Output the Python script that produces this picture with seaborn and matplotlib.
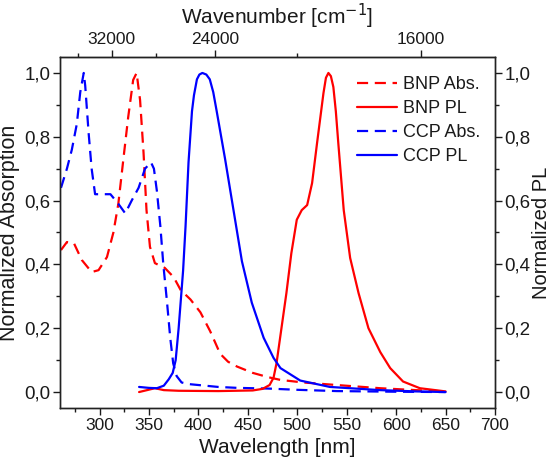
import numpy as np
import matplotlib
matplotlib.use("Agg")
import matplotlib.pyplot as plt
from matplotlib.ticker import FixedLocator, MultipleLocator, FuncFormatter
import seaborn as sns

# Data (wavelength in nm, normalized intensity)
bnp_abs_wl = [261, 267, 274, 282, 292, 299, 307.5, 314, 319, 324, 329, 334, 337.5, 341, 344.5,
              347.5, 351, 356, 366, 375, 382, 392, 402, 412, 422, 430, 439, 455, 470, 483,
              506, 540, 584, 620, 650]
bnp_abs = [0.445, 0.47, 0.467, 0.414, 0.376, 0.382, 0.423, 0.50, 0.59, 0.727, 0.862, 0.978, 1.0,
           0.915, 0.75, 0.57, 0.455, 0.404, 0.389, 0.36, 0.32, 0.29, 0.25, 0.19, 0.12, 0.095,
           0.08, 0.06, 0.047, 0.038, 0.03, 0.022, 0.012, 0.006, 0.002]

bnp_pl_wl = [340, 348, 356, 365, 380, 420, 455, 465, 472, 476, 479, 484, 489, 494, 499.5, 504.5,
             510, 515, 520, 526.5, 529, 531.5, 534, 536.5, 539, 541.5, 547, 553.5, 562, 572,
             584, 594, 607, 624, 650]
bnp_pl = [0.0, 0.006, 0.012, 0.006, 0.004, 0.003, 0.005, 0.01, 0.022, 0.045, 0.09, 0.20, 0.31,
          0.435, 0.54, 0.57, 0.586, 0.655, 0.78, 0.937, 0.985, 1.0, 0.99, 0.956, 0.88, 0.78,
          0.57, 0.42, 0.31, 0.20, 0.125, 0.075, 0.033, 0.012, 0.002]

ccp_abs_wl = [261, 267, 272, 277, 280.5, 284, 285.5, 289, 292, 295.5, 302, 311, 319, 326, 332.5,
              339.5, 346, 352, 355, 358, 361.5, 364.5, 368, 371.5, 374.5, 378, 383, 390, 400,
              420, 440, 470, 500, 540, 600, 650]
ccp_abs = [0.64, 0.70, 0.76, 0.84, 0.94, 1.00, 0.96, 0.81, 0.70, 0.62, 0.62, 0.62, 0.59, 0.56,
           0.60, 0.64, 0.70, 0.72, 0.70, 0.63, 0.52, 0.40, 0.29, 0.17, 0.09, 0.05, 0.03, 0.025,
           0.022, 0.016, 0.013, 0.011, 0.007, 0.003, 0.001, 0.0]

ccp_pl_wl = [340, 350, 358, 365, 370, 374, 377, 380, 382.5, 384.5, 387, 390, 393.5, 395.5, 398.5,
             401, 404, 408, 411.5, 415, 418.5, 427, 435.5, 444, 454, 466, 476, 483, 503, 533,
             584, 620, 650]
ccp_pl = [0.016, 0.013, 0.012, 0.02, 0.04, 0.06, 0.10, 0.20, 0.30, 0.38, 0.52, 0.72, 0.88, 0.93,
          0.98, 0.995, 1.0, 0.995, 0.98, 0.94, 0.88, 0.73, 0.57, 0.41, 0.28, 0.17, 0.107, 0.075,
          0.036, 0.016, 0.006, 0.002, 0.0]

wn_major = [32000, 24000, 16000]
wn_minor = [36000, 28000, 20000]

RED = "#ff0000"
BLUE = "#0000ff"
TXT = "#1a1a1a"
DASH = (0, (5, 3))

sns.set_style("ticks")
plt.rcParams["font.family"] = ["Liberation Sans", "DejaVu Sans"]
plt.rcParams["text.color"] = TXT
plt.rcParams["axes.labelcolor"] = TXT
plt.rcParams["xtick.color"] = TXT
plt.rcParams["ytick.color"] = TXT

fig = plt.figure(figsize=(5.55, 4.63), dpi=100)
ax = fig.add_axes([60 / 555, 1 - 408 / 463, 435 / 555, 351 / 463])
ax2 = ax.twinx()

sns.lineplot(x=bnp_abs_wl, y=bnp_abs, ax=ax, color=RED, linestyle=DASH, lw=1.6,
             sort=False, estimator=None, label="BNP Abs.", legend=False)
sns.lineplot(x=ccp_abs_wl, y=ccp_abs, ax=ax, color=BLUE, linestyle=DASH, lw=1.6,
             sort=False, estimator=None, label="CCP Abs.", legend=False)
sns.lineplot(x=bnp_pl_wl, y=bnp_pl, ax=ax2, color=RED, lw=1.6,
             sort=False, estimator=None, label="BNP PL", legend=False)
sns.lineplot(x=ccp_pl_wl, y=ccp_pl, ax=ax2, color=BLUE, lw=1.6,
             sort=False, estimator=None, label="CCP PL", legend=False)

for a in (ax, ax2):
    a.set_xlim(260, 700)
    a.set_ylim(-0.05, 1.05)
    a.yaxis.set_major_locator(MultipleLocator(0.2))
    a.yaxis.set_minor_locator(MultipleLocator(0.1))
    a.yaxis.set_major_formatter(FuncFormatter(lambda v, p: f"{v:.1f}".replace(".", ",")))
    for s in a.spines.values():
        s.set_visible(True)
        s.set_linewidth(1.0)
        s.set_color("#222222")

ax.xaxis.set_major_locator(MultipleLocator(50))
ax.xaxis.set_minor_locator(MultipleLocator(25))
ax.tick_params(axis="both", which="major", direction="out", length=5, width=1, pad=2)
ax.tick_params(axis="both", which="minor", direction="out", length=3, width=1)
ax.tick_params(axis="x", labelsize=12.5, top=False, which="both")
ax.tick_params(axis="y", labelsize=13.5, right=False, which="both")
ax2.tick_params(axis="y", which="major", direction="out", length=5, width=1, pad=2,
                labelsize=13.5)
ax2.tick_params(axis="y", which="minor", direction="out", length=3, width=1)

ax.set_xlabel("Wavelength [nm]", fontsize=15, labelpad=4)
ax.set_ylabel("Normalized Absorption", fontsize=15.5, labelpad=3)
ax2.set_ylabel("Normalized PL", fontsize=14.5, labelpad=1)


def nm2wn(x):
    x = np.asarray(x, dtype=float)
    with np.errstate(divide="ignore", invalid="ignore"):
        return 1e7 / x


secax = ax.secondary_xaxis("top", functions=(nm2wn, nm2wn))
secax.xaxis.set_major_locator(FixedLocator(wn_major))
secax.xaxis.set_minor_locator(FixedLocator(wn_minor))
secax.xaxis.set_major_formatter(FuncFormatter(lambda v, p: f"{v:.0f}"))
secax.tick_params(axis="x", which="major", direction="out", length=5, width=1, pad=2,
                  labelsize=12.5)
secax.tick_params(axis="x", which="minor", direction="out", length=3, width=1)
secax.set_xlabel("Wavenumber [cm$^{-1}$]", fontsize=15, labelpad=6)

h1, l1 = ax.get_legend_handles_labels()
h2, l2 = ax2.get_legend_handles_labels()
handles = [h1[0], h2[0], h1[1], h2[1]]
labels = [l1[0], l2[0], l1[1], l2[1]]
ax2.legend(handles, labels, loc="upper left", bbox_to_anchor=(0.683, 0.945), frameon=False,
           fontsize=13, handlelength=2.2, handletextpad=0.35, labelspacing=0.38,
           borderpad=0, borderaxespad=0)

fig.savefig("out.png", dpi=100)
